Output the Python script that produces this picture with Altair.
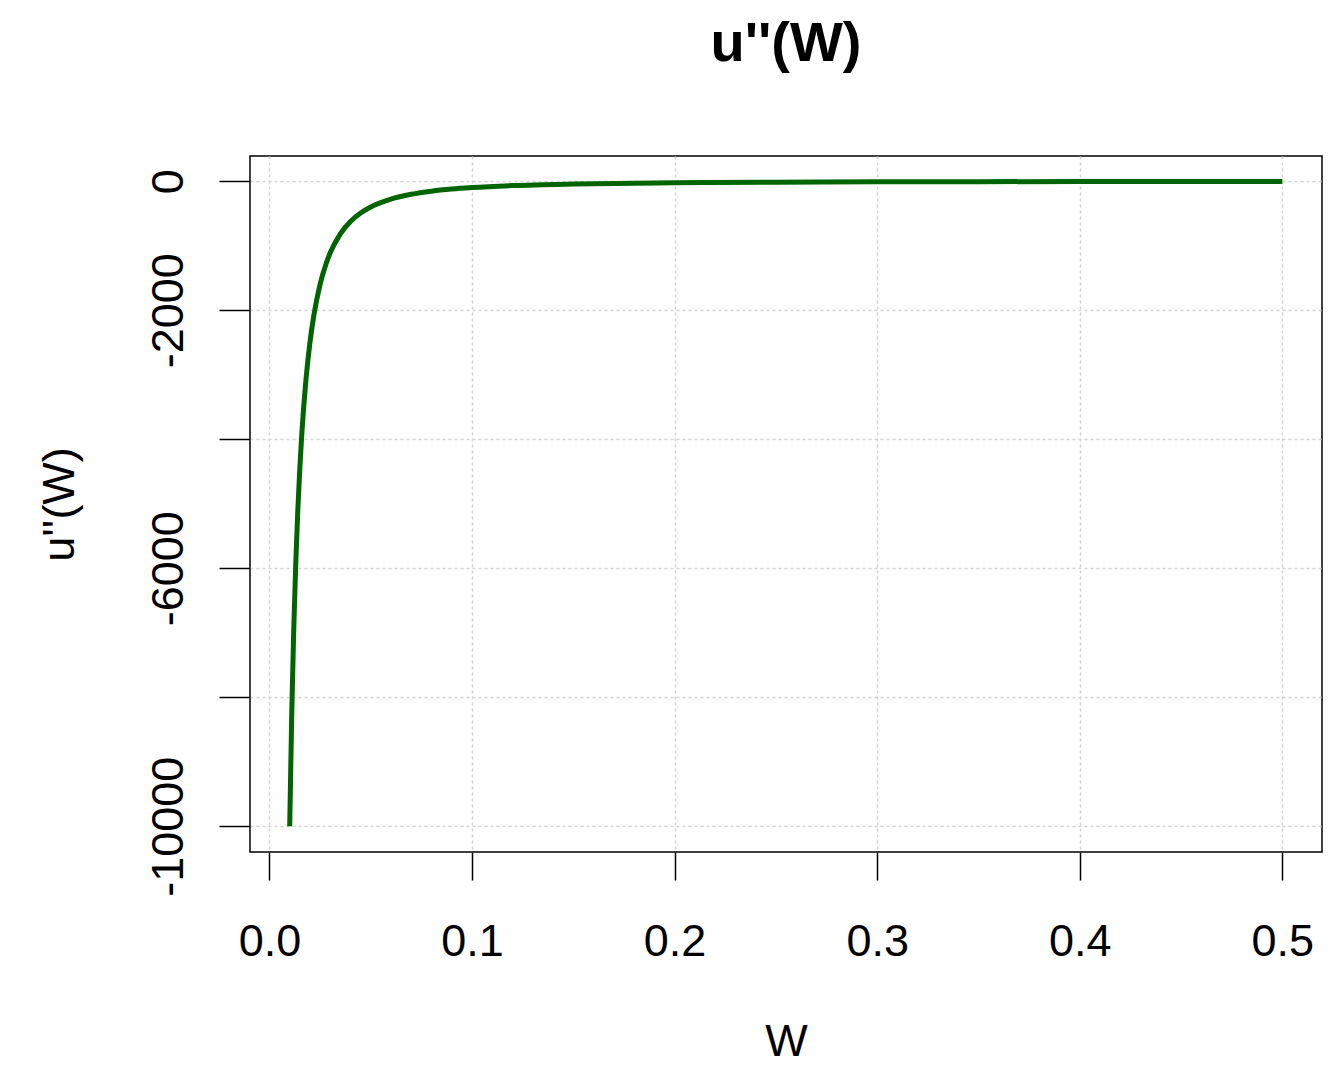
import altair as alt
import pandas as pd

# Values
W = [0.010, 0.011, 0.012, 0.013, 0.014, 0.015, 0.016, 0.018, 0.020, 0.022,
     0.025, 0.028, 0.030, 0.035, 0.040, 0.045, 0.050, 0.060, 0.070, 0.080,
     0.090, 0.100, 0.120, 0.150, 0.200, 0.250, 0.300, 0.350, 0.400, 0.450, 0.500]
U = [-10000, -8264, -6944, -5917, -5102, -4444, -3906, -3086, -2500, -2066,
     -1600, -1276, -1111, -816, -625, -494, -400, -278, -204, -156,
     -123, -100, -69, -44, -25, -16, -11, -8, -6, -5, -4]

x_ticks = [0.0, 0.1, 0.2, 0.3, 0.4, 0.5]
y_ticks = [0, -2000, -4000, -6000, -8000, -10000]

df = pd.DataFrame({"W": W, "U": U})

FONT = "Liberation Sans"

x_axis = alt.Axis(
    values=x_ticks, format=".1f", domain=False,
    tickSize=28, tickColor="black", tickWidth=1.5,
    labelFont=FONT, labelFontSize=45, labelColor="black",
    labelBaseline="alphabetic", labelPadding=75, labelAlign="center",
    labelFlush=False,
    grid=True, gridColor="#d3d3d3", gridDash=[3, 3], gridWidth=1.5,
    title="W", titleFont=FONT, titleFontSize=45, titleFontWeight="normal",
    titleColor="black", titleBaseline="alphabetic", titleAlign="center",
    titleX=536, titleY=203,
)

y_axis = alt.Axis(
    values=y_ticks, domain=False,
    labelExpr="(datum.value == -4000 || datum.value == -8000) ? '' : toString(datum.value)",
    tickSize=31, tickColor="black", tickWidth=1.5,
    labelFont=FONT, labelFontSize=45, labelColor="black",
    labelAngle=270, labelAlign="center", labelBaseline="alphabetic",
    labelPadding=37, labelFlush=False, labelOverlap=False,
    grid=True, gridColor="#d3d3d3", gridDash=[3, 3], gridWidth=1.5,
    title="u''(W)", titleFont=FONT, titleFontSize=45, titleFontWeight="normal",
    titleColor="black", titleAngle=270, titleBaseline="alphabetic",
    titleAlign="center", titleX=-177, titleY=348,
)

chart = (
    alt.Chart(df)
    .mark_line(color="#006400", strokeWidth=5, interpolate="monotone")
    .encode(
        x=alt.X("W:Q", scale=alt.Scale(domain=[-0.0096, 0.5196], nice=False, zero=False), axis=x_axis),
        y=alt.Y("U:Q", scale=alt.Scale(domain=[-10400, 390], nice=False, zero=False), axis=y_axis),
    )
    .properties(
        width=1072,
        height=696,
        title=alt.TitleParams(
            text="u''(W)", font=FONT, fontSize=56, fontWeight="bold", color="black",
            anchor="middle", frame="group", baseline="alphabetic", offset=39,
        ),
        autosize=alt.AutoSizeParams(type="none"),
        padding={"left": 242, "top": 148, "right": 12, "bottom": 216},
        background="white",
    )
    .configure_view(stroke="black", strokeWidth=1.5)
)

chart.save("out.html", embed_options={"renderer": "svg", "actions": False})
